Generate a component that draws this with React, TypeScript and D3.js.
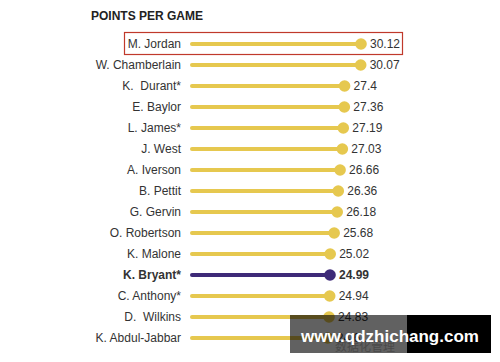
import React from "react";
import * as d3 from "d3";

const players = [
  "M. Jordan",
  "W. Chamberlain",
  "K.  Durant*",
  "E. Baylor",
  "L. James*",
  "J. West",
  "A. Iverson",
  "B. Pettit",
  "G. Gervin",
  "O. Robertson",
  "K. Malone",
  "K. Bryant*",
  "C. Anthony*",
  "D.  Wilkins",
  "K. Abdul-Jabbar",
];
const ppg = [30.12, 30.07, 27.4, 27.36, 27.19, 27.03, 26.66, 26.36, 26.18, 25.68, 25.02, 24.99, 24.94, 24.83, 24.61];
const valueLabels = ["30.12", "30.07", "27.4", "27.36", "27.19", "27.03", "26.66", "26.36", "26.18", "25.68", "25.02", "24.99", "24.94", "24.83", "24.61"];
const highlighted = "K. Bryant*";
const boxed = "M. Jordan";
const title = "POINTS PER GAME";

const W = 500;
const H = 362;
const YELLOW = "#E6C84F";
const PURPLE = "#3E2A78";
const FONT = "'Liberation Sans', Arial, Helvetica, sans-serif";

export default function App() {
  const x = d3.scaleLinear().domain([0, 30.12]).range([179, 361]);
  const y = d3.scalePoint<string>().domain(players).range([44, 338]);
  const barStart = 192;

  return (
    <svg
      width={W}
      height={H}
      style={{ position: "absolute", left: 0, top: 0, background: "#fff" }}
      fontFamily={FONT}
    >
      <rect x={0} y={0} width={W} height={H} fill="#fff" />
      <text x={91} y={20} fontSize={12} fontWeight="bold" fill="#222">
        {title}
      </text>
      {players.map((p, i) => {
        const yy = y(p)!;
        const hl = p === highlighted;
        const c = hl ? PURPLE : YELLOW;
        const cx = x(ppg[i]);
        return (
          <g key={p}>
            <text
              x={181}
              y={yy}
              dy="0.35em"
              textAnchor="end"
              fontSize={12}
              fontWeight={hl ? "bold" : "normal"}
              fill="#333"
              style={{ whiteSpace: "pre" }}
            >
              {p}
            </text>
            <line x1={barStart} x2={cx} y1={yy} y2={yy} stroke={c} strokeWidth={4} strokeLinecap="round" />
            <circle cx={cx} cy={yy} r={5.8} fill={c} />
            <text
              x={cx + 9}
              y={yy}
              dy="0.35em"
              fontSize={12}
              fontWeight={hl ? "bold" : "normal"}
              fill="#333"
            >
              {valueLabels[i]}
            </text>
            {p === boxed && (
              <rect x={124.5} y={32.5} width={278} height={22} fill="none" stroke="#C0392B" strokeWidth={1.2} />
            )}
          </g>
        );
      })}
      <g>
        <text x={335} y={351} fontSize={12} fill="#999" opacity={0.6} fontFamily="'Noto Sans CJK SC', sans-serif">
          数据化管理
        </text>
        <rect x={290} y={315} width={117} height={38} fill="rgba(0,0,0,0.62)" />
        <rect x={407} y={315} width={84} height={38} fill="#000" />
        <text x={390} y={342} textAnchor="middle" fontSize={17} fontWeight="bold" fill="#fff">
          www.qdzhichang.com
        </text>
      </g>
    </svg>
  );
}
